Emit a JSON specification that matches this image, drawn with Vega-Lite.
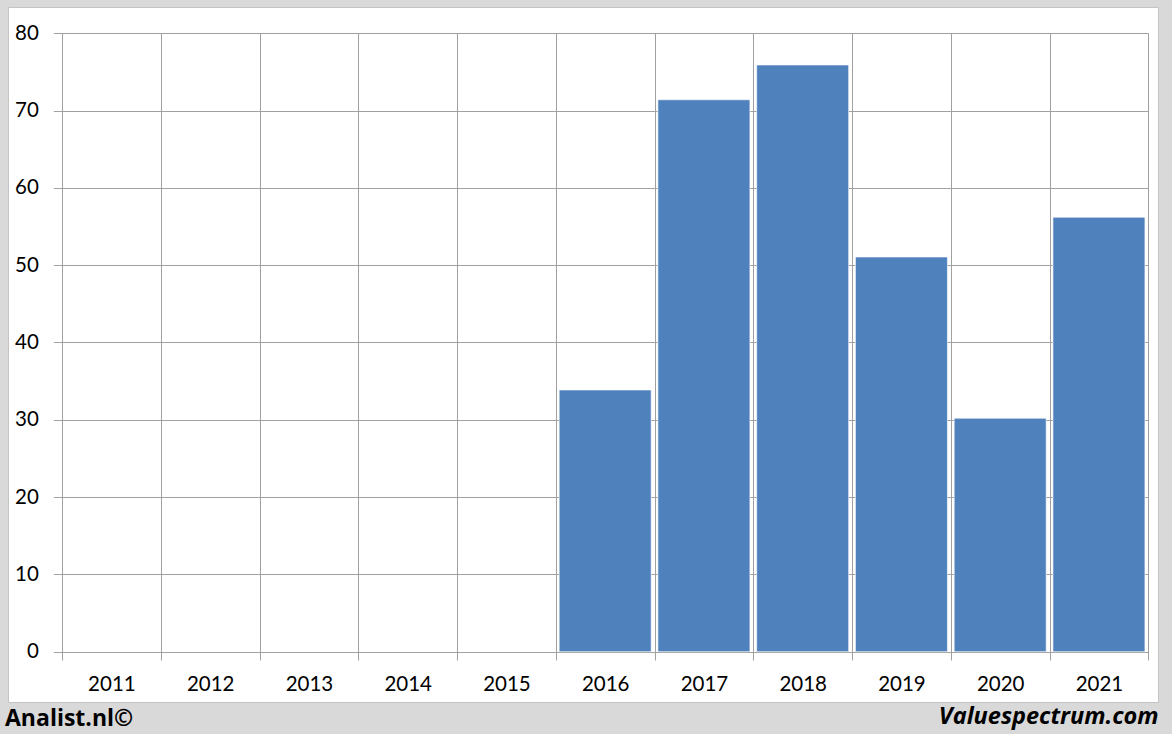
{
  "$schema": "https://vega.github.io/schema/vega-lite/v6.json",
  "width": 1150,
  "height": 695,
  "autosize": {"type": "none"},
  "padding": {"left": 8, "top": 7, "right": 14, "bottom": 32},
  "background": "#d9d9d9",
  "config": {
    "view": {"fill": "white", "stroke": "#c4c4c4", "strokeWidth": 1},
    "font": "Lato"
  },
  "title": {
    "text": "Analist.nl©",
    "orient": "bottom",
    "anchor": "start",
    "frame": "group",
    "font": "Open Sans",
    "fontSize": 23,
    "fontWeight": "bold",
    "color": "#000000",
    "offset": -20,
    "dx": -3
  },
  "data": {
    "values": [
      {"year": 2016, "value": 33.86},
      {"year": 2017, "value": 71.4},
      {"year": 2018, "value": 75.9},
      {"year": 2019, "value": 51.06},
      {"year": 2020, "value": 30.2},
      {"year": 2021, "value": 56.2}
    ]
  },
  "mark": {"type": "bar", "width": 92, "color": "#4f81bd", "stroke": "#ffffff", "strokeOpacity": 0.6, "strokeWidth": 1},
  "encoding": {
    "x": {
      "field": "year",
      "type": "quantitative",
      "scale": {"domain": [2009.9532, 2021.598], "nice": false, "zero": false, "padding": 0},
      "axis": {
        "orient": "bottom",
        "offset": -42,
        "values": [2010.5, 2011.5, 2012.5, 2013.5, 2014.5, 2015.5, 2016.5, 2017.5, 2018.5, 2019.5, 2020.5, 2021.5],
        "tickSize": -626.7,
        "tickColor": "#a0a0a0",
        "tickWidth": 1,
        "domain": false,
        "grid": false,
        "labelExpr": "datum.value > 2021 ? '' : '' + (datum.value + 0.5)",
        "labelOffset": 49.4,
        "labelPadding": 651.4,
        "labelBaseline": "middle",
        "labelAlign": "center",
        "labelFlush": false,
        "labelOverlap": false,
        "labelBound": false,
        "labelFont": "Lato",
        "labelFontSize": 20.5,
        "labelColor": "#000000",
        "title": "Valuespectrum.com",
        "titleAnchor": "end",
        "titlePadding": 9,
        "titleFont": "Open Sans",
        "titleFontSize": 23.5,
        "titleFontWeight": "bold",
        "titleFontStyle": "italic",
        "titleColor": "#000000"
      }
    },
    "y": {
      "field": "value",
      "type": "quantitative",
      "scale": {"domain": [-6.507, 83.402], "nice": false, "zero": false, "padding": 0},
      "axis": {
        "orient": "left",
        "offset": -45.3,
        "values": [0, 10, 20, 30, 40, 50, 60, 70, 80],
        "tickSize": -1095,
        "tickColor": "#a0a0a0",
        "tickWidth": 1,
        "domain": false,
        "grid": false,
        "labelPadding": 1110,
        "labelAlign": "right",
        "labelBaseline": "middle",
        "labelFont": "Lato",
        "labelFontSize": 20.5,
        "labelColor": "#000000",
        "labelBound": false,
        "labelFlush": false,
        "labelOverlap": false,
        "title": null
      }
    },
    "y2": {"datum": 0}
  }
}
